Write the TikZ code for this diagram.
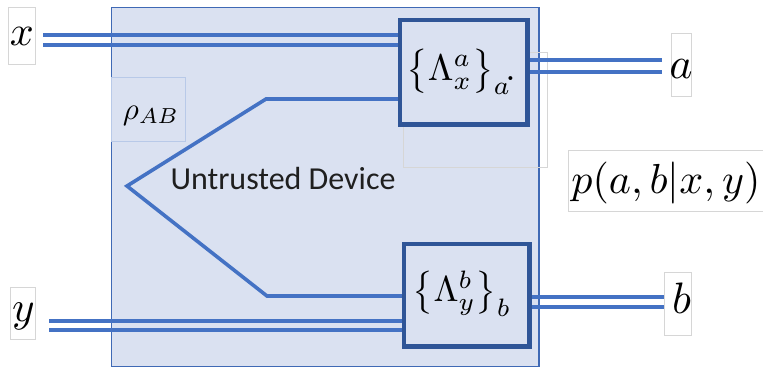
\documentclass[tikz,border=0pt]{standalone}
\usepackage{fontspec}
\newfontfamily\labelfont{Carlito}
\definecolor{wireblue}{HTML}{4472C4}
\definecolor{devfill}{HTML}{DAE1F1}
\definecolor{devedge}{HTML}{3F69B5}
\definecolor{measedge}{HTML}{2F5597}
\definecolor{faintblue}{HTML}{B8C9E8}
\definecolor{faintgray}{HTML}{D6D6D6}
% math set at 10pt and magnified
\newcommand{\magmath}[2]{\scalebox{#1}{$#2$}}
\begin{document}
\begin{tikzpicture}[x=1pt,y=-1pt,
  wire/.style={line width=3.6pt, draw=wireblue},
  devbox/.style={draw=devedge, line width=1.3pt, fill=devfill, inner sep=0pt},
  measbox/.style={draw=measedge, line width=3pt, fill=devfill, inner sep=0pt},
  faintbox/.style={draw=faintblue, line width=0.6pt},
  graybox/.style={draw=faintgray, line width=0.8pt},
  mathlabel/.style={inner sep=0pt, anchor=base},
]
\useasboundingbox (0,0) rectangle (763,368);

% the untrusted device
\node[devbox, minimum width=427.5pt, minimum height=359pt] (dev) at (325.3,186.8) {};

% text-box outlines
\draw[faintbox] (111.7,77) rectangle (185.7,141);
\draw[graybox] (403,52) rectangle (547,167);
\draw[faintbox] (405,24) rectangle (523,120);
\draw[faintbox] (419,259) rectangle (508,330);
\draw[graybox] (8,7) rectangle (35,64);
\draw[graybox] (671,33) rectangle (691,96);
\draw[graybox] (664,272) rectangle (691,335);
\draw[graybox] (10,287) rectangle (35,339);
\draw[graybox] (763,150.7) -- (568,150.7) -- (568,211.7) -- (763,211.7);

% measurement boxes
\node[measbox, minimum width=126pt, minimum height=103pt] (mA) at (463.5,72) {};
\node[measbox, minimum width=124pt, minimum height=101pt] (mB) at (466.5,295) {};

% wire end points
\coordinate (xin1) at (43,35);
\coordinate (xin2) at (43,45);
\coordinate (yin1) at (49,321);
\coordinate (yin2) at (49,330);
\coordinate (aout1) at (662,60);
\coordinate (aout2) at (662,72);
\coordinate (bout1) at (664,297);
\coordinate (bout2) at (664,307);
\coordinate (src) at (127,186);
\coordinate (kA) at (266,99);
\coordinate (kB) at (267,296);

% classical inputs and outputs
\draw[wire] (xin1) -- (xin1 -| mA.west);
\draw[wire] (xin2) -- (xin2 -| mA.west);
\draw[wire] (yin1) -- (yin1 -| mB.west);
\draw[wire] (yin2) -- (yin2 -| mB.west);
\draw[wire] (aout1 -| mA.east) -- (aout1);
\draw[wire] (aout2 -| mA.east) -- (aout2);
\draw[wire] (bout1 -| mB.east) -- (bout1);
\draw[wire] (bout2 -| mB.east) -- (bout2);

% shared state
\draw[wire, line join=miter] (kA -| mA.west) -- (kA) -- (src) -- (kB) -- (kB -| mB.west);

% box outlines over the wire ends
\draw[draw=measedge, line width=3pt] (mA.south west) rectangle (mA.north east);
\draw[draw=measedge, line width=3pt] (mB.south west) rectangle (mB.north east);

% labels
\node[mathlabel] (lA) at (461,80) {\magmath{3.7}{\bigl\{\Lambda_x^a\bigr\}_a\!.}};
\node[mathlabel] (lB) at (462,301.7) {\magmath{3.6}{\bigl\{\Lambda_y^b\bigr\}_b}};
\node[mathlabel] (rho) at (151,119) {\magmath{3.1}{\rho_{AB}}};
\node[inner sep=0pt, anchor=base, font=\labelfont\fontsize{32}{38}\selectfont, text=black!88] (ud) at (283,189) {Untrusted Device};
\node[mathlabel] (xl) at (22,45) {\magmath{4.2}{x}};
\node[mathlabel] (yl) at (23.5,321) {\magmath{4.3}{y}};
\node[mathlabel] (al) at (681,78) {\magmath{4.4}{a}};
\node[mathlabel] (bl) at (681.5,313) {\magmath{4.4}{b}};
\node[mathlabel] (pl) at (666,193) {\magmath{4.2}{p(a,b|x,y)}};
\end{tikzpicture}
\end{document}
